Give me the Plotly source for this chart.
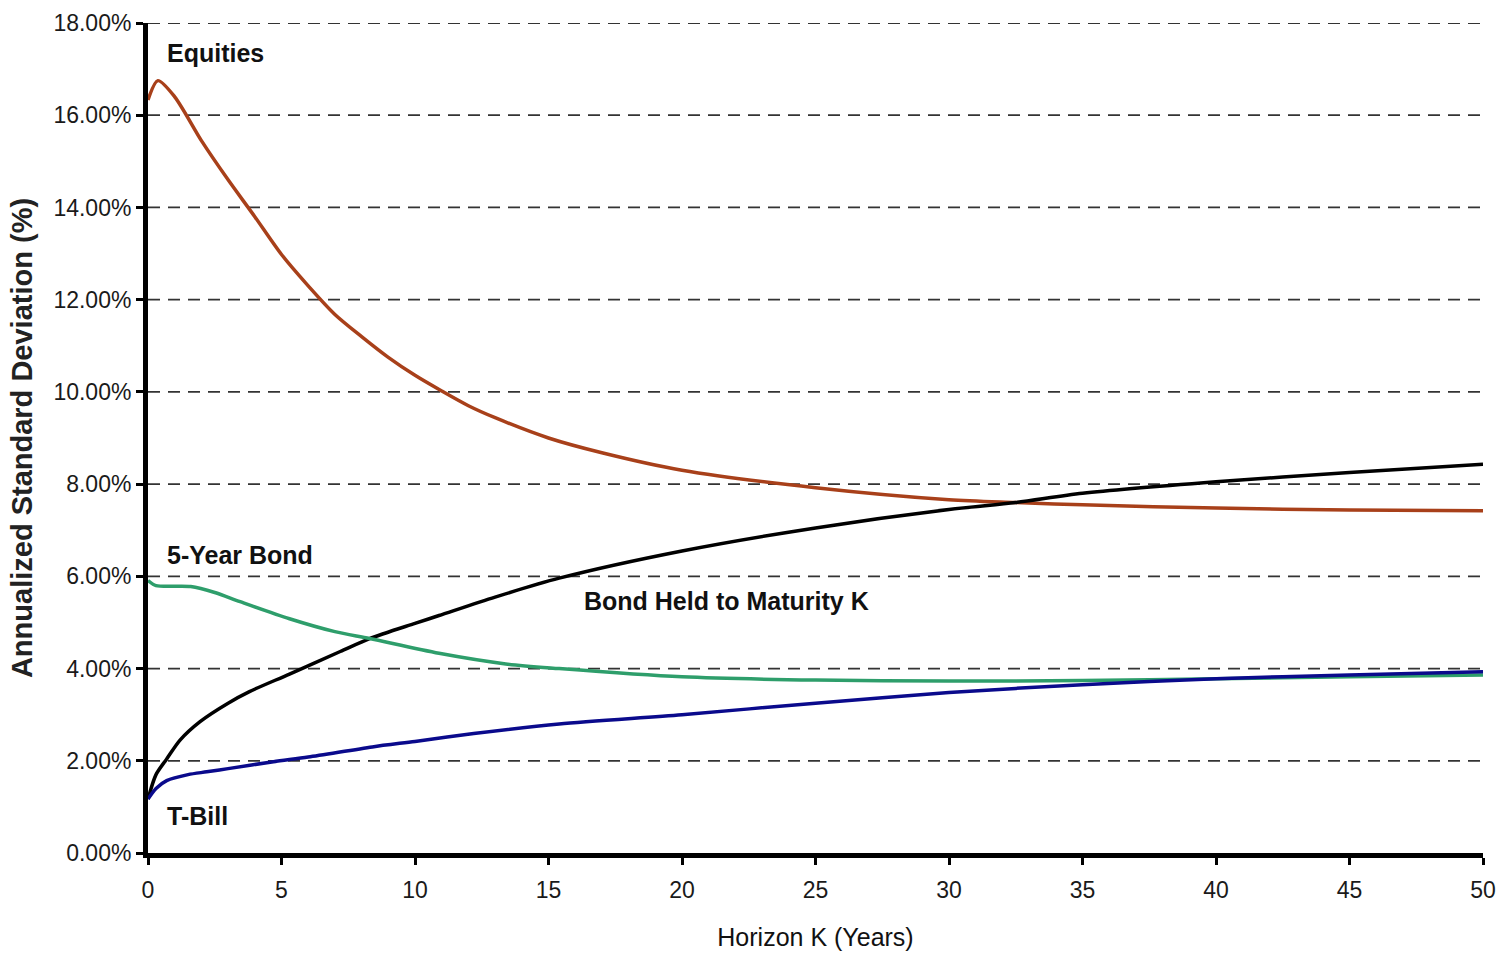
import plotly.graph_objects as go

# Horizon K (years) and annualized standard deviations (%)
eq_x = [0, 0.37, 1, 2, 3, 4, 5, 6, 7, 8, 9, 10, 11, 12, 13, 15, 17, 20, 25, 30, 32.5, 35, 40, 45, 50]
equities = [16.33, 16.75, 16.4, 15.45, 14.6, 13.8, 12.98, 12.3, 11.68, 11.2, 10.75, 10.36, 10.02,
            9.7, 9.44, 9.0, 8.68, 8.3, 7.92, 7.66, 7.6, 7.55, 7.48, 7.44, 7.42]

bm_x = [0, 0.3, 0.7, 1.2, 1.95, 3, 3.8, 5.3, 7.2, 8.3, 10, 10.9, 13, 15.4, 20, 25, 30, 32.5, 35, 40, 45, 50]
bond_maturity = [1.17, 1.7, 2.04, 2.45, 2.85, 3.25, 3.5, 3.88, 4.37, 4.65, 4.98, 5.15, 5.55, 5.96,
                 6.55, 7.05, 7.45, 7.6, 7.8, 8.05, 8.25, 8.43]

b5_x = [0, 0.3, 1.6, 2.5, 3.45, 5.3, 7, 8.3, 10.9, 13.4, 15.4, 20, 25, 30, 35, 40, 45, 50]
bond_5yr = [5.91, 5.8, 5.78, 5.65, 5.45, 5.08, 4.8, 4.65, 4.33, 4.1, 4.0, 3.82, 3.75, 3.73, 3.74,
            3.78, 3.82, 3.86]

tb_x = [0, 0.3, 0.7, 1.5, 2.2, 3, 4.7, 6, 8.4, 10, 12.2, 15.4, 20, 25, 30, 35, 40, 45, 50]
tbill = [1.17, 1.4, 1.57, 1.7, 1.76, 1.83, 1.98, 2.08, 2.3, 2.42, 2.59, 2.8, 3.0, 3.25, 3.48,
         3.65, 3.78, 3.86, 3.93]

y_ticks = [0, 2, 4, 6, 8, 10, 12, 14, 16, 18]
y_tick_labels = ["0.00%", "2.00%", "4.00%", "6.00%", "8.00%", "10.00%",
                 "12.00%", "14.00%", "16.00%", "18.00%"]
x_ticks = [0, 5, 10, 15, 20, 25, 30, 35, 40, 45, 50]

FONT = "Liberation Sans, Arial, sans-serif"

fig = go.Figure()
series = [
    ("Equities", eq_x, equities, "#A8401A"),
    ("Bond Held to Maturity K", bm_x, bond_maturity, "#000000"),
    ("5-Year Bond", b5_x, bond_5yr, "#2E9E6B"),
    ("T-Bill", tb_x, tbill, "#0A0A8C"),
]
for name, xs, ys, col in series:
    fig.add_trace(go.Scatter(x=xs, y=ys, mode="lines", name=name,
                             line=dict(color=col, width=3.5, shape="spline", smoothing=0.8)))

for yv in y_ticks[1:]:
    fig.add_hline(y=yv, line=dict(color="#333333", width=1.8, dash="12px,8px"), layer="below")

ann = [
    ("Equities", 0.62, 17.35),
    ("5-Year Bond", 0.62, 6.46),
    ("T-Bill", 0.62, 0.8),
    ("Bond Held to Maturity K", 16.25, 5.47),
]
for txt, ax, ay in ann:
    fig.add_annotation(x=ax, y=ay, text="<b>%s</b>" % txt, showarrow=False,
                       xanchor="left", yanchor="middle",
                       font=dict(family=FONT, size=25, color="#111111"))

fig.update_layout(
    width=1501, height=955,
    margin=dict(l=148, r=18, t=23, b=102),
    paper_bgcolor="white", plot_bgcolor="white",
    showlegend=False,
    font=dict(family=FONT, color="#111111"),
)
fig.update_xaxes(
    range=[0, 50], tickvals=x_ticks, showgrid=False, zeroline=False, automargin=False,
    showline=True, linecolor="black", linewidth=5,
    ticks="outside", ticklen=7, tickwidth=3, tickcolor="black", ticklabelstandoff=5,
    tickfont=dict(family=FONT, size=23, color="#1a1a1a"),
    title=dict(text="Horizon K (Years)", font=dict(family=FONT, size=25, color="#111111"),
               standoff=28),
)
fig.update_yaxes(
    range=[0, 18], tickvals=y_ticks, ticktext=y_tick_labels, showgrid=False, zeroline=False,
    automargin=False,
    showline=True, linecolor="black", linewidth=5,
    ticks="outside", ticklen=7, tickwidth=3, tickcolor="black",
    tickfont=dict(family=FONT, size=23, color="#1a1a1a"),
    title=dict(text="<b>Annualized Standard Deviation (%)</b>",
               font=dict(family=FONT, size=29, color="#222222"), standoff=14),
)

fig.write_html("out.html", config={"displayModeBar": False},
               post_script="document.body.style.margin='0';document.body.style.overflow='hidden';")
